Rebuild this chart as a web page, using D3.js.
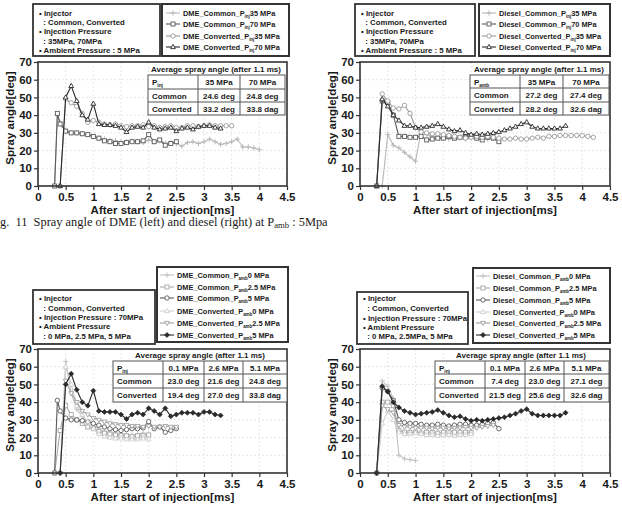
<!DOCTYPE html>
<html><head><meta charset="utf-8">
<script src="https://cdn.jsdelivr.net/npm/d3@7"></script>
<style>
body{margin:0;background:#fff;}
svg{display:block;}
text{font-family:"Liberation Sans",Arial,sans-serif;font-weight:bold;fill:#1a1a1a;}
</style>
</head><body><svg id="c" width="622" height="506"></svg>
<script>
// ---------- axis ticks ----------
const xTicks = [0,0.5,1,1.5,2,2.5,3,3.5,4,4.5];
const xTickLabels = ["0","0.5","1","1.5","2","2.5","3","3.5","4","4.5"];
const yTicks = [0,10,20,30,40,50,60,70];
const yTickLabels = ["0","10","20","30","40","50","60","70"];

// ---------- Panel 1 : DME, Pamb 5 MPa ----------
const p1_t_com35 = [0.3,0.35,0.4,0.5,0.6,0.7,0.8,0.9,1.0,1.1,1.2,1.3,1.4,1.5,1.6,1.7,1.8,1.9,2.0,2.1,2.2,2.3,2.4,2.5,2.6,2.7,2.8,2.9,3.0,3.1,3.2,3.3,3.4,3.5,3.6,3.7,3.8,3.9,4.0];
const p1_v_com35 = [0,40,36,31,30,30,29.5,29,28,27,26.5,26,25.5,25,25,25.5,25,24.5,26,25,25.5,24,24.5,24,22.5,24.5,25,24,25,26.5,25,23.5,24,25,26.5,22,22,21.5,20.5];
const p1_t_com70 = [0.3,0.35,0.4,0.5,0.6,0.7,0.8,0.9,1.0,1.1,1.2,1.3,1.4,1.5,1.6,1.7,1.8,1.9,2.0,2.1,2.2,2.3,2.4,2.5];
const p1_v_com70 = [0,41,35,31,30,30,29.5,29,28,27,25.5,25,24,24,24.5,25,25,25.5,29,25,26,23,24,25];
const p1_t_conv35 = [0.4,0.5,0.6,0.7,0.8,0.9,1.0,1.1,1.2,1.3,1.4,1.5,1.6,1.7,1.8,1.9,2.0,2.1,2.2,2.3,2.4,2.5,2.6,2.7,2.8,2.9,3.0,3.1,3.2,3.3,3.4,3.5];
const p1_v_conv35 = [0,49,47,45,41,36,37,36,35,34.5,35,34,33.5,34,34,34.5,33.5,34,33,33.5,34,33,33,34,34,33.5,34,34.5,34,34,34,34];
const p1_t_conv70 = [0.4,0.5,0.6,0.7,0.8,0.9,1.0,1.1,1.2,1.3,1.4,1.5,1.6,1.7,1.8,1.9,2.0,2.1,2.2,2.3,2.4,2.5,2.6,2.7,2.8,2.9,3.0,3.1,3.2,3.3];
const p1_v_conv70 = [0,50,56.5,48,40,37.5,46.5,35,34.5,34.5,34,33,30.5,33,33.5,33,36,33,32,32.5,33,31,32.5,33,32,33.5,34,34,33,32.5];

// ---------- Panel 2 : Diesel, Pamb 5 MPa ----------
const p2_t_com35 = [0.4,0.5,0.6,0.7,0.8,0.9,1.0,1.1,1.2,1.3,1.4,1.5,1.6,1.7,1.8,1.9,2.0,2.1,2.2,2.3,2.4,2.5];
const p2_v_com35 = [0,29,23,21.5,19,16.5,14,31,29,28,27.5,27,26.5,27,27,26.5,27,27.5,27,26.5,27,27];
const p2_t_com70 = [0.3,0.4,0.5,0.6,0.7,0.8,0.9,1.0,1.1,1.2,1.3,1.4,1.5,1.6,1.7,1.8,1.9,2.0,2.1,2.2,2.3,2.4,2.5];
const p2_v_com70 = [0,48,47,40,28,28,27.5,27.5,28,26,26.5,27,27,28,27,27.5,27.5,28,27,26,27.5,27,25];
const p2_t_conv35 = [0.3,0.4,0.5,0.6,0.7,0.8,0.9,1.0,1.1,1.2,1.3,1.4,1.5,1.6,1.7,1.8,1.9,2.0,2.1,2.2,2.3,2.4,2.5,2.6,2.7,2.8,2.9,3.0,3.1,3.2,3.3,3.4,3.5,3.6,3.7,3.8,3.9,4.0,4.1,4.2];
const p2_v_conv35 = [0,52,48,44,43.5,45.5,41,33,30.5,30,29.5,29.5,29,28.5,28,27.5,27,27.5,28,27.5,28,27.5,27,26.5,26.5,27,26.5,26.5,27,27.5,27,28,28,28.5,28.5,28.5,28.5,28.5,28,27.5];
const p2_t_conv70 = [0.3,0.4,0.5,0.6,0.7,0.8,0.9,1.0,1.1,1.2,1.3,1.4,1.5,1.6,1.7,1.8,1.9,2.0,2.1,2.2,2.3,2.4,2.5,2.6,2.7,2.8,2.9,3.0,3.1,3.2,3.3,3.4,3.5,3.6,3.7];
const p2_v_conv70 = [0,49,45,40,37,34,34,33,33,33.5,34,35,33.5,32,31,31.5,30,29,29.5,29,29.5,30,30.5,31.5,32.5,33.5,35,36,33.5,32.5,32.5,32.5,32.5,32.5,34];

// ---------- Panel 3 : DME, Pinj 70 MPa ----------
const p3_t_com0 = [0.4,0.5,0.6,0.7,0.8,0.9,1.0,1.1,1.2,1.3,1.4,1.5,1.6,1.7,1.8,1.9,2.0];
const p3_v_com0 = [0,63,45,36,32,29,27,25,23.5,23,22.5,22,22,21.5,22,22.5,22];
const p3_t_com25 = [0.3,0.4,0.5,0.6,0.7,0.8,0.9,1.0,1.1,1.2,1.3,1.4,1.5,1.6,1.7,1.8,1.9,2.0];
const p3_v_com25 = [0,24,38,33,30,28,26,25,23.5,22.5,22,21.5,21,21,20.5,21,21,21.5];
const p3_t_com5 = [0.3,0.35,0.4,0.5,0.6,0.7,0.8,0.9,1.0,1.1,1.2,1.3,1.4,1.5,1.6,1.7,1.8,1.9,2.0,2.1,2.2,2.3,2.4,2.5];
const p3_v_com5 = [0,41,35,31,30,30,29.5,29,28,27,26,25,24.5,24,24.5,25,25,25.5,29,25,26,23,24,25];
const p3_t_conv0 = [0.4,0.5,0.6,0.7,0.8,0.9,1.0,1.1,1.2,1.3,1.4,1.5,1.6,1.7,1.8,1.9,2.0];
const p3_v_conv0 = [0,60,50,38,33,29,25,22,20.5,20,19.5,19.5,19,19,19,19.5,19];
const p3_t_conv25 = [0.4,0.5,0.6,0.7,0.8,0.9,1.0,1.1,1.2,1.3,1.4,1.5,1.6,1.7,1.8,1.9,2.0,2.1,2.2,2.3,2.4,2.5];
const p3_v_conv25 = [0,52,45,40,35,33,31,30,29,28,27.5,27,27,26.5,26.5,26,26.5,26,26,26.5,26,26];
const p3_t_conv5 = [0.4,0.5,0.6,0.7,0.8,0.9,1.0,1.1,1.2,1.3,1.4,1.5,1.6,1.7,1.8,1.9,2.0,2.1,2.2,2.3,2.4,2.5,2.6,2.7,2.8,2.9,3.0,3.1,3.2,3.3];
const p3_v_conv5 = [0,50,56,47,40,38,46.5,35,34.5,34.5,34.5,33,30.5,33,34,33,36.5,35,33,36.5,32,33,34,34,34,33,34.5,34.5,33,32.5];

// ---------- Panel 4 : Diesel, Pinj 70 MPa ----------
const p4_t_com0 = [0.3,0.4,0.5,0.6,0.7,0.8,0.9,1.0];
const p4_v_com0 = [0,52,49,42,10,8,7.5,7];
const p4_t_com25 = [0.3,0.4,0.5,0.6,0.7,0.8,0.9,1.0,1.1,1.2,1.3,1.4,1.5,1.6,1.7,1.8,1.9,2.0];
const p4_v_com25 = [0,40,40,38,24,23,23,23,22.5,23,23,22.5,23,23.5,23,23,23,23];
const p4_t_com5 = [0.3,0.4,0.5,0.6,0.7,0.8,0.9,1.0,1.1,1.2,1.3,1.4,1.5,1.6,1.7,1.8,1.9,2.0,2.1,2.2,2.3,2.4,2.5];
const p4_v_com5 = [0,48,46,41,30,28.5,28,28,27.5,27,27,27.5,27,26.5,27,27.5,27.5,27,27,27.5,28,28.5,25];
const p4_t_conv0 = [0.3,0.4,0.5,0.6,0.7,0.8,0.9,1.0,1.1,1.2,1.3,1.4,1.5,1.6,1.7,1.8,1.9,2.0];
const p4_v_conv0 = [0,28,35,30,23,22,22,22.5,22,21.5,21.5,21,21.5,21.5,21,21.5,21.5,22];
const p4_t_conv25 = [0.3,0.4,0.5,0.6,0.7,0.8,0.9,1.0,1.1,1.2,1.3,1.4,1.5,1.6,1.7,1.8,1.9,2.0,2.1,2.2,2.3,2.4];
const p4_v_conv25 = [0,38,36,34,27,26,26,25.5,25.5,25.5,25,25.5,25.5,25,25.5,25.5,26,25.5,25.5,26,26.5,27];
const p4_t_conv5 = [0.3,0.4,0.5,0.6,0.7,0.8,0.9,1.0,1.1,1.2,1.3,1.4,1.5,1.6,1.7,1.8,1.9,2.0,2.1,2.2,2.3,2.4,2.5,2.6,2.7,2.8,2.9,3.0,3.1,3.2,3.3,3.4,3.5,3.6,3.7];
const p4_v_conv5 = [0,49,46,40,37,35,34,33,33.5,34,34.5,35.5,34,32.5,31.5,32,30.5,29.5,30,29.5,30,30.5,31,31.5,32.5,33.5,35,36,33.5,32.5,32.5,32.5,32.5,32.5,34];

// ---------- legend & table texts ----------
const p1_names = [["DME_Common_P","inj","35 MPa"],["DME_Common_P","inj","70 MPa"],["DME_Converted_P","inj","35 MPa"],["DME_Converted_P","inj","70 MPa"]];
const p2_names = [["Diesel_Common_P","inj","35 MPa"],["Diesel_Common_P","inj","70 MPa"],["Diesel_Converted_P","inj","35 MPa"],["Diesel_Converted_P","inj","70 MPa"]];
const p3_names = [["DME_Common_P","amb","0 MPa"],["DME_Common_P","amb","2.5 MPa"],["DME_Common_P","amb","5 MPa"],["DME_Converted_P","amb","0 MPa"],["DME_Converted_P","amb","2.5 MPa"],["DME_Converted_P","amb","5 MPa"]];
const p4_names = [["Diesel_Common_P","amb","0 MPa"],["Diesel_Common_P","amb","2.5 MPa"],["Diesel_Common_P","amb","5 MPa"],["Diesel_Converted_P","amb","0 MPa"],["Diesel_Converted_P","amb","2.5 MPa"],["Diesel_Converted_P","amb","5 MPa"]];

const top_info = ["\u2022 Injector","\u00a0\u00a0: Common, Converted","\u2022 Injection Pressure","\u00a0\u00a0: 35MPa, 70MPa","\u2022 Ambient Pressure : 5 MPa"];
const p3_info = ["\u2022 Injector","\u00a0\u00a0: Common, Converted","\u2022 Injection Pressure : 70MPa","\u2022 Ambient Pressure","\u00a0\u00a0: 0 MPa, 2.5 MPa, 5 MPa"];
const p4_info = ["\u2022 Injector","\u00a0\u00a0: Common, Converted","\u2022 Injection Pressure : 70MPa","\u2022 Ambient Pressure","\u00a0\u00a0: 0 MPa, 2.5MPa, 5 MPa"];

const tableTitle = "Average spray angle (after 1.1 ms)";
const p1_table = [[["P","inj",""],"35 MPa","70 MPa"],["Common","24.6 deg","24.8 deg"],["Converted","33.2 deg","33.8 dag"]];
const p2_table = [[["P","amb",""],"35 MPa","70 MPa"],["Common","27.2 deg","27.4 deg"],["Converted","28.2 deg","32.6 dag"]];
const p3_table = [[["P","inj",""],"0.1 MPa","2.6 MPa","5.1 MPa"],["Common","23.0 deg","21.6 deg","24.8 deg"],["Converted","19.4 deg","27.0 deg","33.8 dag"]];
const p4_table = [[["P","inj",""],"0.1 MPa","2.6 MPa","5.1 MPa"],["Common","7.4 deg","23.0 deg","27.1 deg"],["Converted","21.5 deg","25.6 deg","32.6 dag"]];

const xTitle = "After start of injection[ms]";
const yTitle = "Spray angle[deg]";
const captionParts = ["g.\u00a0\u00a011\u00a0\u00a0Spray angle of DME (left) and diesel (right) at P", "amb", " : 5Mpa"];

// ---------- drawing ----------
const svg = d3.select("#c");

function rich(t, parts){
  if (typeof parts === "string") { t.text(parts); return; }
  t.append("tspan").text(parts[0]);
  t.append("tspan").attr("dy", 2).attr("font-size", "0.6em").text(parts[1]);
  if (parts[2] !== "") t.append("tspan").attr("dy", -2).text(parts[2]);
}

function marker(g, type, cx, cy, col){
  const s = 2.0;
  if (type === "plus") {
    g.append("path").attr("d", `M${cx-s-0.6},${cy}H${cx+s+0.6}M${cx},${cy-s-0.6}V${cy+s+0.6}`)
      .attr("stroke", col).attr("stroke-width", 1).attr("fill", "none");
  } else if (type === "square") {
    g.append("rect").attr("x", cx-s).attr("y", cy-s).attr("width", 2*s).attr("height", 2*s)
      .attr("fill", "#fff").attr("stroke", col).attr("stroke-width", 0.9);
  } else if (type === "circle") {
    g.append("circle").attr("cx", cx).attr("cy", cy).attr("r", s+0.2)
      .attr("fill", "#fff").attr("stroke", col).attr("stroke-width", 0.9);
  } else if (type === "tri") {
    g.append("path").attr("d", `M${cx},${cy-s-0.6}L${cx+s+0.4},${cy+s-0.4}L${cx-s-0.4},${cy+s-0.4}Z`)
      .attr("fill", "#fff").attr("stroke", col).attr("stroke-width", 0.9);
  } else if (type === "invtri") {
    g.append("path").attr("d", `M${cx},${cy+s+0.6}L${cx+s+0.4},${cy-s+0.4}L${cx-s-0.4},${cy-s+0.4}Z`)
      .attr("fill", "#fff").attr("stroke", col).attr("stroke-width", 0.9);
  } else if (type === "diamond") {
    g.append("path").attr("d", `M${cx},${cy-s-0.5}L${cx+s+0.5},${cy}L${cx},${cy+s+0.5}L${cx-s-0.5},${cy}Z`)
      .attr("fill", col).attr("stroke", col).attr("stroke-width", 0.7);
  }
}

function panel(cfg){
  const x = d3.scaleLinear().domain([0, 4.5]).range([cfg.L, cfg.R]);
  const y = d3.scaleLinear().domain([0, 70]).range([cfg.B, cfg.T]);
  const g = svg.append("g");

  // grid
  g.selectAll(null).data(yTicks.slice(1, -1)).join("line")
    .attr("x1", cfg.L).attr("x2", cfg.R).attr("y1", d => y(d)).attr("y2", d => y(d))
    .attr("stroke", "#e0e0e0").attr("stroke-width", 0.8).attr("stroke-dasharray", "2,2");
  g.selectAll(null).data(xTicks.slice(1, -1)).join("line")
    .attr("y1", cfg.T).attr("y2", cfg.B).attr("x1", d => x(d)).attr("x2", d => x(d))
    .attr("stroke", "#e0e0e0").attr("stroke-width", 0.8).attr("stroke-dasharray", "2,2");

  // series
  cfg.series.forEach(s => {
    const pts = s.t.map((t, i) => [x(t), y(s.v[i])]);
    g.append("path").attr("d", d3.line()(pts)).attr("fill", "none")
      .attr("stroke", s.col).attr("stroke-width", 1.1);
    pts.forEach(p => marker(g, s.mk, p[0], p[1], s.col));
  });

  // frame
  g.append("rect").attr("x", cfg.L).attr("y", cfg.T).attr("width", cfg.R - cfg.L).attr("height", cfg.B - cfg.T)
    .attr("fill", "none").attr("stroke", "#333").attr("stroke-width", 1.6);

  // axes
  const ay = g.append("g").attr("transform", `translate(${cfg.L},0)`)
    .call(d3.axisLeft(y).tickValues(yTicks).tickSize(4).tickPadding(2).tickFormat((d, i) => yTickLabels[i]));
  const ax = g.append("g").attr("transform", `translate(0,${cfg.B})`)
    .call(d3.axisBottom(x).tickValues(xTicks).tickSize(4).tickPadding(3).tickFormat((d, i) => xTickLabels[i]));
  [ay, ax].forEach(a => {
    a.select(".domain").remove();
    a.selectAll(".tick line").attr("stroke", "#333").attr("stroke-width", 1.2);
    a.selectAll(".tick text").attr("font-size", 11.5).attr("font-family", "Liberation Sans, Arial, sans-serif")
      .attr("font-weight", "bold").attr("fill", "#1a1a1a");
  });

  // titles
  g.append("text").attr("x", (cfg.L + cfg.R) / 2).attr("y", cfg.B + 28).attr("text-anchor", "middle")
    .attr("font-size", 11.5).text(xTitle);
  g.append("text").attr("transform", `translate(${cfg.L - 24},${(cfg.T + cfg.B) / 2 - 6}) rotate(-90)`)
    .attr("text-anchor", "middle").attr("font-size", 11.5).text(yTitle);

  // table
  const tb = cfg.table;
  g.append("rect").attr("x", tb.cols[0]).attr("y", tb.rows[0]).attr("width", tb.cols[tb.cols.length-1] - tb.cols[0])
    .attr("height", tb.rows[tb.rows.length-1] - tb.rows[0]).attr("fill", "#fff").attr("stroke", "#555").attr("stroke-width", 1);
  tb.cols.slice(1, -1).forEach(cx => g.append("line").attr("x1", cx).attr("x2", cx).attr("y1", tb.rows[0]).attr("y2", tb.rows[tb.rows.length-1]).attr("stroke", "#555"));
  tb.rows.slice(1, -1).forEach(ry => g.append("line").attr("y1", ry).attr("y2", ry).attr("x1", tb.cols[0]).attr("x2", tb.cols[tb.cols.length-1]).attr("stroke", "#555"));
  g.append("text").attr("x", tb.titleX).attr("y", tb.rows[0] - 3.5).attr("text-anchor", "middle").attr("font-size", 8).text(tableTitle);
  tb.data.forEach((row, ri) => {
    const cy = (tb.rows[ri] + tb.rows[ri+1]) / 2 + 3;
    row.forEach((cell, ci) => {
      const t = g.append("text").attr("font-size", 8).attr("y", cy);
      if (ci === 0) t.attr("x", tb.cols[0] + 4);
      else t.attr("x", (tb.cols[ci] + tb.cols[ci+1]) / 2).attr("text-anchor", "middle");
      rich(t, cell);
    });
  });

  // info legend box
  const ib = cfg.info;
  g.append("rect").attr("x", ib.x0).attr("y", ib.y0).attr("width", ib.x1 - ib.x0).attr("height", ib.y1 - ib.y0)
    .attr("fill", "#fff").attr("stroke", "#333").attr("stroke-width", 1.8);
  ib.lines.forEach((ln, i) => {
    g.append("text").attr("x", ib.x0 + 6).attr("y", ib.ly[i] + 3).attr("font-size", 7.8).text(ln);
  });

  // series legend box
  const lb = cfg.legend;
  g.append("rect").attr("x", lb.x0).attr("y", lb.y0).attr("width", lb.x1 - lb.x0).attr("height", lb.y1 - lb.y0)
    .attr("fill", "#fff").attr("stroke", "#333").attr("stroke-width", 2);
  cfg.series.forEach((s, i) => {
    const yy = lb.ly[i];
    g.append("line").attr("x1", lb.sx).attr("x2", lb.sx + 14).attr("y1", yy).attr("y2", yy).attr("stroke", s.col).attr("stroke-width", 1.1);
    marker(g, s.mk, lb.sx + 7, yy, s.col);
    const t = g.append("text").attr("x", lb.sx + 17).attr("y", yy + 3).attr("font-size", 7.4);
    rich(t, cfg.names[i]);
  });
}

const cLight = "#b8b8b8", cMid = "#9a9a9a", cDark = "#5a5a5a", cBlack = "#2a2a2a";

panel({
  L: 38, R: 287, T: 62, B: 186,
  series: [
    {t: p1_t_com35, v: p1_v_com35, col: cLight, mk: "plus"},
    {t: p1_t_com70, v: p1_v_com70, col: cDark, mk: "square"},
    {t: p1_t_conv35, v: p1_v_conv35, col: cMid, mk: "circle"},
    {t: p1_t_conv70, v: p1_v_conv70, col: cBlack, mk: "tri"}
  ],
  names: p1_names,
  table: {cols: [148, 198, 240, 285], rows: [75, 89, 102, 115], titleX: 216, data: p1_table},
  info: {x0: 33, y0: 4, x1: 160, y1: 56, ly: [13, 22, 31, 41, 50], lines: top_info},
  legend: {x0: 162, y0: 4, x1: 289, y1: 56, sx: 166, ly: [13, 24, 36, 47]}
});

panel({
  L: 360, R: 610, T: 62, B: 186,
  series: [
    {t: p2_t_com35, v: p2_v_com35, col: cLight, mk: "plus"},
    {t: p2_t_com70, v: p2_v_com70, col: cDark, mk: "square"},
    {t: p2_t_conv35, v: p2_v_conv35, col: cMid, mk: "circle"},
    {t: p2_t_conv70, v: p2_v_conv70, col: cBlack, mk: "tri"}
  ],
  names: p2_names,
  table: {cols: [470, 520, 563, 609], rows: [75, 88, 102, 115], titleX: 539, data: p2_table},
  info: {x0: 355, y0: 4, x1: 475, y1: 56, ly: [13, 22, 31, 41, 50], lines: top_info},
  legend: {x0: 479, y0: 4, x1: 610, y1: 56, sx: 482, ly: [13, 24, 36, 47]}
});

panel({
  L: 38, R: 287, T: 349, B: 473,
  series: [
    {t: p3_t_com0, v: p3_v_com0, col: "#c4c4c4", mk: "plus"},
    {t: p3_t_com25, v: p3_v_com25, col: "#a8a8a8", mk: "square"},
    {t: p3_t_com5, v: p3_v_com5, col: cDark, mk: "circle"},
    {t: p3_t_conv0, v: p3_v_conv0, col: "#cfcfcf", mk: "tri"},
    {t: p3_t_conv25, v: p3_v_conv25, col: "#a0a0a0", mk: "invtri"},
    {t: p3_t_conv5, v: p3_v_conv5, col: cBlack, mk: "diamond"}
  ],
  names: p3_names,
  table: {cols: [113, 163, 204, 243, 287], rows: [361, 374, 388, 402], titleX: 200, data: p3_table},
  info: {x0: 33, y0: 290, x1: 155, y1: 344, ly: [298, 308, 317, 326, 336], lines: p3_info},
  legend: {x0: 157, y0: 267, x1: 288, y1: 342, sx: 160, ly: [275, 287, 298, 311, 323, 335]}
});

panel({
  L: 360, R: 610, T: 349, B: 473,
  series: [
    {t: p4_t_com0, v: p4_v_com0, col: "#c4c4c4", mk: "plus"},
    {t: p4_t_com25, v: p4_v_com25, col: "#a8a8a8", mk: "square"},
    {t: p4_t_com5, v: p4_v_com5, col: cDark, mk: "circle"},
    {t: p4_t_conv0, v: p4_v_conv0, col: "#cfcfcf", mk: "tri"},
    {t: p4_t_conv25, v: p4_v_conv25, col: "#a0a0a0", mk: "invtri"},
    {t: p4_t_conv5, v: p4_v_conv5, col: cBlack, mk: "diamond"}
  ],
  names: p4_names,
  table: {cols: [435, 485, 525, 564, 609], rows: [361, 374, 388, 402], titleX: 521, data: p4_table},
  info: {x0: 357, y0: 292, x1: 468, y1: 344, ly: [298, 308, 318, 327, 336], lines: p4_info},
  legend: {x0: 473, y0: 268, x1: 610, y1: 343, sx: 476, ly: [276, 288, 300, 312, 323, 335]}
});

// caption
const cap = svg.append("text").attr("x", 0).attr("y", 226)
  .style("font-family", "'Liberation Serif','Times New Roman',serif").style("font-weight", "normal")
  .attr("font-size", 12.4).attr("fill", "#222");
cap.append("tspan").text(captionParts[0]);
cap.append("tspan").attr("dy", 2).attr("font-size", "0.7em").text(captionParts[1]);
cap.append("tspan").attr("dy", -2).text(captionParts[2]);
</script>
</body></html>
